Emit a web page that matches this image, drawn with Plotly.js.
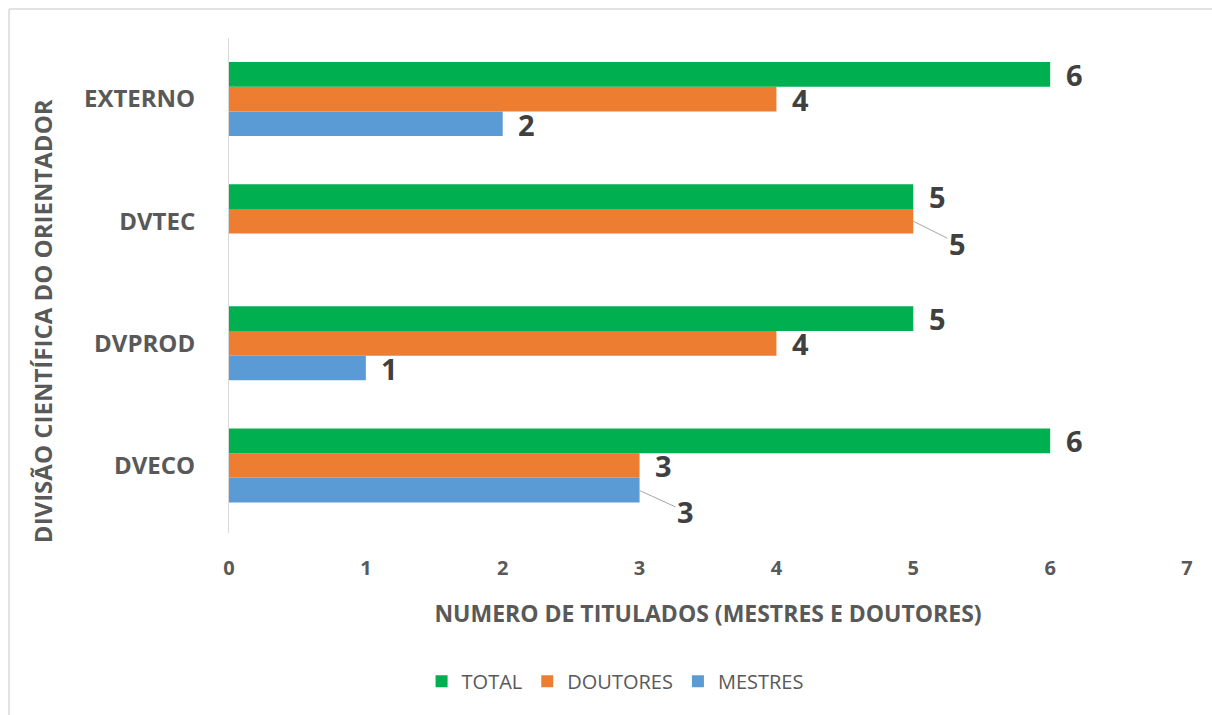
<!DOCTYPE html>
<html>
<head>
<meta charset="utf-8">
<script src="https://cdn.plot.ly/plotly-3.0.1.min.js"></script>
<style>
html,body{margin:0;padding:0;background:#fff;}
#chart{width:1212px;height:715px;}
</style>
</head>
<body>
<div id="chart"></div>
<script>
const categories = ['DVECO', 'DVPROD', 'DVTEC', 'EXTERNO'];
const total = [6, 5, 5, 6];
const doutores = [3, 4, 5, 4];
const mestres = [3, 1, null, 2];
const seriesNames = ['TOTAL', 'DOUTORES', 'MESTRES'];
const xTicks = [0, 1, 2, 3, 4, 5, 6, 7];
const xTitle = 'NUMERO DE TITULADOS (MESTRES E DOUTORES)';
const yTitle = 'DIVISÃO CIENTÍFICA DO ORIENTADOR';

const colors = {TOTAL: '#00B050', DOUTORES: '#ED7D31', MESTRES: '#5B9BD5'};
const seriesData = {TOTAL: total, DOUTORES: doutores, MESTRES: mestres};

// plotly grouped horizontal bars: first trace is lowest in the group
const order = ['MESTRES', 'DOUTORES', 'TOTAL'];
const traces = order.map(name => ({
  type: 'bar',
  orientation: 'h',
  name: name,
  y: categories,
  x: seriesData[name],
  marker: {color: colors[name]},
  hoverinfo: 'x+y+name'
}));

// label placement: slot offset inside the group (px)
const slotShift = {TOTAL: 25, DOUTORES: 0, MESTRES: -25};
// labels that need a leader line (category, series) -> offset
const leader = {'DVTEC|DOUTORES': [44, 22], 'DVECO|MESTRES': [46, 21]};

const annotations = [];
seriesNames.forEach(name => {
  seriesData[name].forEach((v, i) => {
    if (v === null || v === undefined) return;
    const key = categories[i] + '|' + name;
    const base = {
      x: v, y: categories[i], xref: 'x', yref: 'y',
      text: String(v),
      font: {family: 'Open Sans, sans-serif', size: 29, color: '#404040', weight: 'bold'},
      yshift: slotShift[name]
    };
    if (leader[key]) {
      Object.assign(base, {
        showarrow: true, arrowhead: 0, arrowwidth: 1, arrowcolor: '#a6a6a6',
        ax: leader[key][0], ay: leader[key][1], standoff: 0
      });
    } else {
      Object.assign(base, {showarrow: false, xanchor: 'center', xshift: 24});
    }
    annotations.push(base);
  });
});

// vertical axis title (placed like the original chart)
annotations.push({
  text: yTitle, xref: 'paper', yref: 'paper',
  x: -0.1952, y: 0.428, xanchor: 'center', yanchor: 'middle',
  textangle: -90, showarrow: false,
  font: {family: 'Open Sans, sans-serif', size: 24, color: '#595959', weight: 'bold'}
});

const layout = {
  width: 1212, height: 715,
  margin: {l: 229, r: 25, t: 38, b: 182},
  paper_bgcolor: '#ffffff',
  plot_bgcolor: '#ffffff',
  barmode: 'group',
  bargap: 0.394,
  bargroupgap: 0,
  font: {family: 'Open Sans, sans-serif', color: '#595959'},
  xaxis: {
    range: [0, 7],
    tickvals: xTicks,
    ticktext: xTicks.map(String),
    showgrid: false,
    zeroline: false,
    showline: false,
    ticks: '',
    ticklabelstandoff: 21,
    tickfont: {size: 20, color: '#595959', weight: 'bold'},
    title: {
      text: xTitle,
      font: {size: 23, color: '#595959', weight: 'bold'},
      standoff: 25
    },
    fixedrange: true
  },
  yaxis: {
    type: 'category',
    categoryorder: 'array',
    categoryarray: categories,
    showgrid: false,
    zeroline: false,
    showline: true,
    linecolor: '#d9d9d9',
    linewidth: 1,
    ticks: '',
    ticklabelstandoff: 28,
    tickfont: {size: 24, color: '#595959', weight: 'bold'},
    fixedrange: true
  },
  showlegend: true,
  legend: {
    orientation: 'h',
    traceorder: 'reversed',
    x: 0.403, xanchor: 'center',
    y: -0.26, yanchor: 'top',
    font: {size: 20, color: '#595959'},
    itemwidth: 30
  },
  annotations: annotations,
  shapes: [
    {type: 'line', xref: 'paper', yref: 'paper', x0: -0.2296, x1: 1.1, y0: 1.0586, y1: 1.0586,
     line: {color: '#d9d9d9', width: 1.5}},
    {type: 'line', xref: 'paper', yref: 'paper', x0: -0.2296, x1: -0.2296, y0: 1.0586, y1: -0.4,
     line: {color: '#d9d9d9', width: 1.5}}
  ]
};

Plotly.newPlot('chart', traces, layout, {displayModeBar: false, staticPlot: true});
</script>
</body>
</html>
